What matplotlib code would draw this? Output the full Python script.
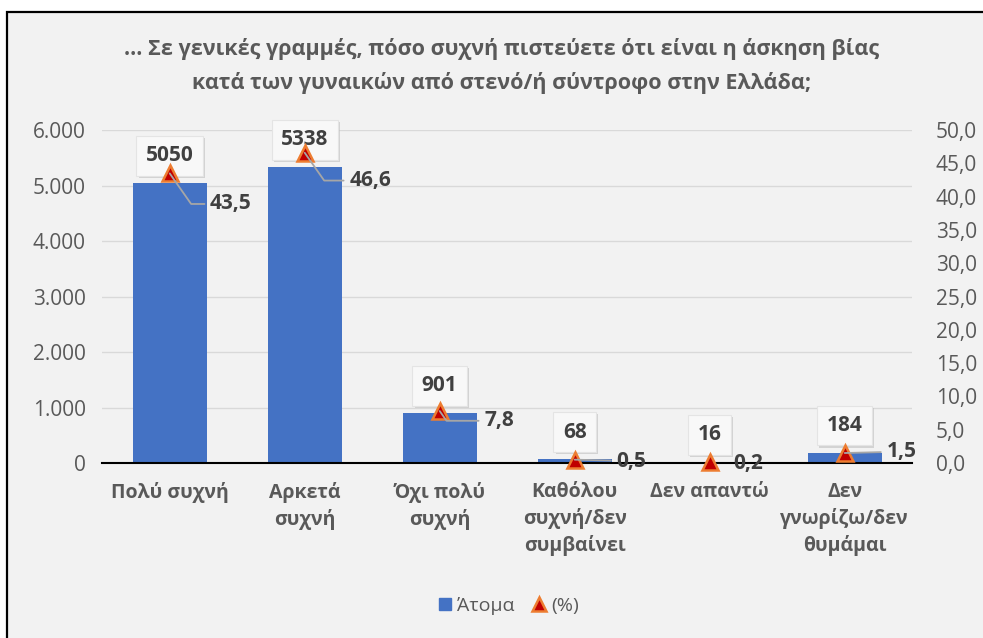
import matplotlib.pyplot as plt
import matplotlib.patheffects as pe
from matplotlib.patches import Rectangle
from matplotlib.lines import Line2D
from matplotlib.ticker import FuncFormatter

plt.rcParams['font.family'] = ['Open Sans', 'DejaVu Sans']

#-------data-------
categories = ['Πολύ συχνή', 'Αρκετά\nσυχνή', 'Όχι πολύ\nσυχνή',
              'Καθόλου\nσυχνή/δεν\nσυμβαίνει', 'Δεν απαντώ',
              'Δεν\nγνωρίζω/δεν\nθυμάμαι']
persons = [5050, 5338, 901, 68, 16, 184]
percent = [43.5, 46.6, 7.8, 0.5, 0.2, 1.5]
# label offsets for the % labels (points)
pct_off = [(29, -22), (32, -20), (32, -7), (30, -1), (17, -1), (30, 1)]
title = '... Σε γενικές γραμμές, πόσο συχνή πιστεύετε ότι είναι η άσκηση βίας\nκατά των γυναικών από στενό/ή σύντροφο στην Ελλάδα;'

blue = '#4472C4'
grey = '#595959'
dark = '#404040'

fig = plt.figure(figsize=(9.83, 6.38), dpi=100)
fig.patch.set_facecolor('white')
bg = Rectangle((7/983, -0.05), 1.1, 1.05 - 12/638, transform=fig.transFigure,
               facecolor='#F2F2F2', edgecolor='black', linewidth=1.6, zorder=-10)
fig.add_artist(bg)

ax = fig.add_axes([0.104, 0.2743, 0.824, 0.5217])
ax.set_facecolor('none')
x = range(len(categories))
ax.bar(x, persons, width=0.55, color=blue, zorder=2)
ax.set_ylim(0, 6000)
ax.set_xlim(-0.5, len(categories) - 0.5)
ax.set_yticks(range(0, 6001, 1000))
ax.yaxis.set_major_formatter(FuncFormatter(lambda v, p: '{:,.0f}'.format(v).replace(',', '.')))
ax.grid(axis='y', color='#D9D9D9', linewidth=1, zorder=0)
ax.set_axisbelow(True)
for s in ['top', 'right', 'left']:
    ax.spines[s].set_visible(False)
ax.spines['bottom'].set_color('black')
ax.spines['bottom'].set_linewidth(1.5)
ax.spines['bottom'].set_zorder(3)
ax.tick_params(axis='both', length=0, colors=grey, labelsize=15)
ax.tick_params(axis='y', pad=12)
ax.set_xticks(list(x))
ax.set_xticklabels(categories, fontsize=14, fontweight='bold', color=grey, va='top', linespacing=1.35)
ax.tick_params(axis='x', pad=14)

#bar value boxes
for i, v in enumerate(persons):
    t = ax.annotate(str(v), (i, v), xytext=(0, 12), textcoords='offset points',
                    ha='center', va='bottom', fontsize=15, fontweight='bold', color=dark,
                    bbox=dict(boxstyle='square,pad=0.45', facecolor='#F8F8F8', edgecolor='#E4E4E4', linewidth=0.8),
                    zorder=4)
    t.get_bbox_patch().set_path_effects([pe.SimplePatchShadow(offset=(1.5, -1.5), shadow_rgbFace='#BFBFBF', alpha=0.6), pe.Normal()])

#percent axis
ax2 = ax.twinx()
ax2.set_ylim(0, 50)
ax2.set_yticks(range(0, 51, 5))
ax2.yaxis.set_major_formatter(FuncFormatter(lambda v, p: '{:.1f}'.format(v).replace('.', ',')))
for s in ['top', 'right', 'left', 'bottom']:
    ax2.spines[s].set_visible(False)
ax2.tick_params(axis='y', length=0, colors=grey, labelsize=15, pad=17)
ax2.plot(list(x), percent, linestyle='none', marker='^', markersize=11, markerfacecolor='#C00000',
         markeredgecolor='#ED7D31', markeredgewidth=1.8, zorder=5, clip_on=False)
for i, v in enumerate(percent):
    lab = '{:.1f}'.format(v).replace('.', ',')
    arrow = None
    if i != 4:
        arrow = dict(arrowstyle='-', color='#A6A6A6', linewidth=1.3, shrinkA=2, shrinkB=0,
                     connectionstyle='angle,angleA=0,angleB=-55,rad=0' if i < 3 else 'arc3')
    ax2.annotate(lab, (i, v), xytext=pct_off[i], textcoords='offset points',
                 ha='left', va='center', fontsize=15, fontweight='bold', color=dark,
                 arrowprops=arrow, zorder=6)

fig.suptitle(title, x=0.51, y=0.94, fontsize=15.5, fontweight='bold', color=grey, linespacing=1.7)

handles = [Line2D([], [], linestyle='none', marker='s', markersize=9, color=blue),
           Line2D([], [], linestyle='none', marker='^', markersize=10, markerfacecolor='#C00000',
                  markeredgecolor='#ED7D31', markeredgewidth=1.8)]
fig.legend(handles, ['Άτομα', '(%)'], loc='center', bbox_to_anchor=(508/983, 1 - 606/638), ncol=2,
           frameon=False, fontsize=14, labelcolor=grey, handlelength=0.8, handletextpad=0.2,
           columnspacing=0.9)

plt.savefig('out.png', dpi=100)
